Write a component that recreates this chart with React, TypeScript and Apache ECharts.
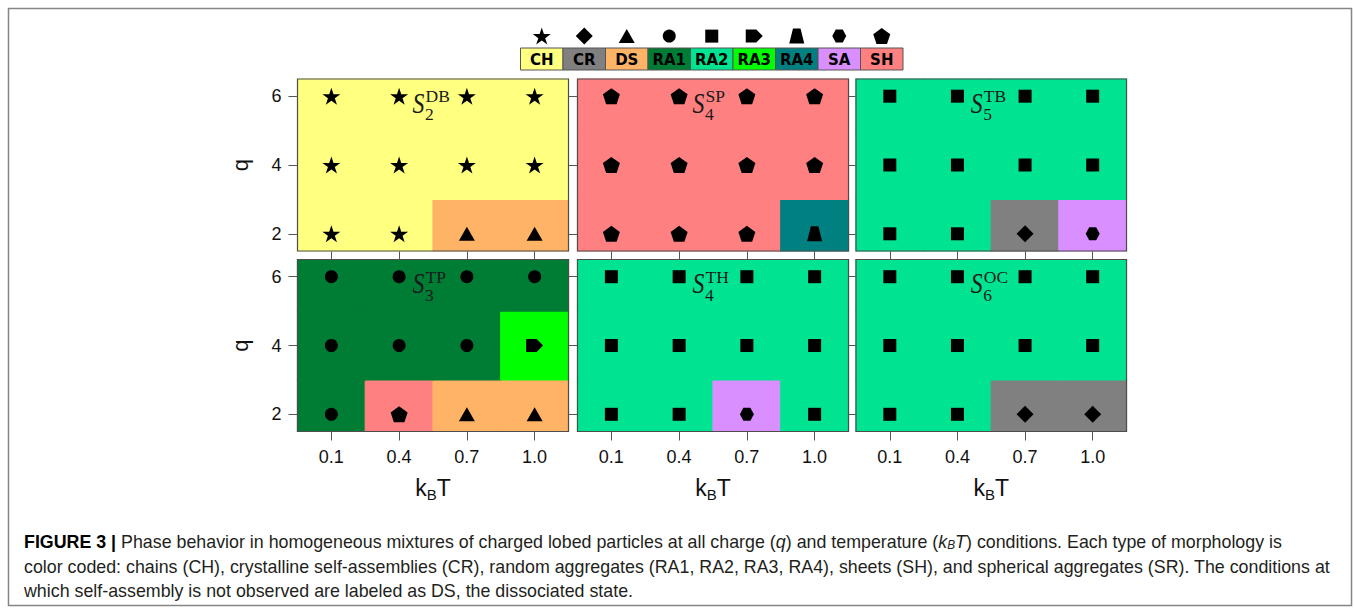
import React, { useEffect, useRef } from 'react';
import * as echarts from 'echarts';

// ---------------- data ----------------
const phaseTypes = ['CH', 'CR', 'DS', 'RA1', 'RA2', 'RA3', 'RA4', 'SA', 'SH'];
const phaseColors = ['#FFFF80', '#808080', '#FFB366', '#007D35', '#00E492', '#00FF00', '#008080', '#D98FFF', '#FF8080'];
const kbtValues = [0.1, 0.4, 0.7, 1.0];
const qValues = [2, 4, 6];
const kbtRange = [-0.05, 1.15];
const qRange = [1.5, 6.5];
const systemSub = ['2', '4', '5', '3', '4', '6'];
const systemSup = ['DB', 'SP', 'TB', 'TP', 'TH', 'OC'];
// rows: q = 2, 4, 6 ; columns: kBT = 0.1, 0.4, 0.7, 1.0
const phaseS2DB = [['CH', 'CH', 'DS', 'DS'], ['CH', 'CH', 'CH', 'CH'], ['CH', 'CH', 'CH', 'CH']];
const phaseS4SP = [['SH', 'SH', 'SH', 'RA4'], ['SH', 'SH', 'SH', 'SH'], ['SH', 'SH', 'SH', 'SH']];
const phaseS5TB = [['RA2', 'RA2', 'CR', 'SA'], ['RA2', 'RA2', 'RA2', 'RA2'], ['RA2', 'RA2', 'RA2', 'RA2']];
const phaseS3TP = [['RA1', 'SH', 'DS', 'DS'], ['RA1', 'RA1', 'RA1', 'RA3'], ['RA1', 'RA1', 'RA1', 'RA1']];
const phaseS4TH = [['RA2', 'RA2', 'SA', 'RA2'], ['RA2', 'RA2', 'RA2', 'RA2'], ['RA2', 'RA2', 'RA2', 'RA2']];
const phaseS6OC = [['RA2', 'RA2', 'CR', 'CR'], ['RA2', 'RA2', 'RA2', 'RA2'], ['RA2', 'RA2', 'RA2', 'RA2']];
const panelMaps = [phaseS2DB, phaseS4SP, phaseS5TB, phaseS3TP, phaseS4TH, phaseS6OC];

const captionLines = [
  '{b|FIGURE 3 |} Phase behavior in homogeneous mixtures of charged lobed particles at all charge ({i|q}) and temperature ({i|k}{s|B}{i|T}) conditions. Each type of morphology is',
  'color coded: chains (CH), crystalline self-assemblies (CR), random aggregates (RA1, RA2, RA3, RA4), sheets (SH), and spherical aggregates (SR). The conditions at',
  'which self-assembly is not observed are labeled as DS, the dissociated state.',
];

// ---------------- styling / layout ----------------
const SYM: Record<string, { symbol: string; size: number | number[] }> = {
  CH: { symbol: 'path://M50 0 L61.23 34.55 L97.55 34.55 L68.16 55.9 L79.39 90.45 L50 69.1 L20.61 90.45 L31.84 55.9 L2.45 34.55 L38.77 34.55 Z', size: [18, 17] },
  CR: { symbol: 'diamond', size: [17, 17] },
  DS: { symbol: 'triangle', size: [16, 14] },
  RA1: { symbol: 'circle', size: 13 },
  RA2: { symbol: 'rect', size: 13 },
  RA3: { symbol: 'path://M0 0 L62 0 L100 50 L62 100 L0 100 Z', size: [17, 13] },
  RA4: { symbol: 'path://M25 0 L75 0 L100 100 L0 100 Z', size: [15, 15] },
  SA: { symbol: 'path://M25 0 L75 0 L100 50 L75 100 L25 100 L0 50 Z', size: [14, 13] },
  SH: { symbol: 'path://M50 0 L97.55 34.55 L79.39 90.45 L20.61 90.45 L2.45 34.55 Z', size: [17, 16] },
};

const gridLefts = [297.5, 577.5, 856];
const gridWidths = [271, 271, 270.5];
const gridTops = [79, 259.5];
const gridHeight = 172;
const SANS = '"Liberation Sans", Arial, sans-serif';
const SERIF = '"Liberation Serif", "Times New Roman", serif';

function cellRender(params: any, api: any) {
  const p0 = api.coord([api.value(0), api.value(3)]);
  const p1 = api.coord([api.value(1), api.value(2)]);
  const c = phaseColors[api.value(4)];
  return {
    type: 'rect',
    shape: { x: p0[0], y: p0[1], width: p1[0] - p0[0], height: p1[1] - p0[1] },
    style: { fill: c, stroke: c, lineWidth: 1.2 },
  };
}

function legendRender(params: any, api: any) {
  const idx = api.value(0);
  const base = api.coord([idx, 0]);
  const w = api.size([1, 0])[0];
  const top = api.coord([idx, 0.5])[1];
  return {
    type: 'group',
    children: [
      {
        type: 'rect',
        shape: { x: base[0] - w / 2, y: top, width: w, height: base[1] - top },
        style: { fill: phaseColors[idx], stroke: '#555', lineWidth: 1 },
      },
      {
        type: 'text',
        x: base[0],
        y: (top + base[1]) / 2 + 1,
        style: {
          text: phaseTypes[idx],
          fill: '#000',
          font: 'bold 15px "DejaVu Sans", Verdana, sans-serif',
          align: 'center',
          verticalAlign: 'middle',
        },
      },
    ],
  };
}

function buildOption() {
  const grids: any[] = [];
  const xAxes: any[] = [];
  const yAxes: any[] = [];
  const series: any[] = [];
  const graphics: any[] = [];

  panelMaps.forEach((map, i) => {
    const row = Math.floor(i / 3);
    const col = i % 3;
    grids.push({
      left: gridLefts[col], top: gridTops[row], width: gridWidths[col], height: gridHeight,
      show: true, borderColor: '#4d4d4d', borderWidth: 1.2, backgroundColor: 'transparent', z: 10,
    });
    xAxes.push({
      type: 'value', gridIndex: i, min: kbtRange[0], max: kbtRange[1],
      splitLine: { show: false },
      axisLine: { show: false, onZero: false },
      axisTick: { show: true, customValues: kbtValues, length: 9, lineStyle: { color: '#555', width: 1 } },
      axisLabel: {
        show: row === 1, customValues: kbtValues, formatter: (v: number) => v.toFixed(1),
        fontSize: 18, fontFamily: SANS, color: '#111', margin: 16,
      },
      name: row === 1 ? 'k{b|B}T' : '',
      nameLocation: 'middle', nameGap: 42,
      nameTextStyle: {
        fontSize: 23, fontFamily: SANS, color: '#111', lineHeight: 28,
        rich: { b: { fontSize: 15, fontFamily: SANS, color: '#111', lineHeight: 15, verticalAlign: 'bottom' } },
      },
    });
    yAxes.push({
      type: 'value', gridIndex: i, min: qRange[0], max: qRange[1],
      splitLine: { show: false },
      axisLine: { show: false, onZero: false },
      axisTick: { show: true, customValues: qValues, length: 9, lineStyle: { color: '#555', width: 1 } },
      axisLabel: {
        show: col === 0, customValues: qValues, fontSize: 18, fontFamily: SANS, color: '#111', margin: 16,
      },
      name: col === 0 ? 'q' : '',
      nameLocation: 'middle', nameGap: 46,
      nameTextStyle: { fontSize: 22, fontFamily: SANS, color: '#111' },
    });

    const cells: number[][] = [];
    const marks: any[] = [];
    qValues.forEach((q, r) => {
      const y0 = r === 0 ? qRange[0] : (qValues[r - 1] + q) / 2;
      const y1 = r === qValues.length - 1 ? qRange[1] : (q + qValues[r + 1]) / 2;
      kbtValues.forEach((t, c) => {
        const x0 = c === 0 ? kbtRange[0] : (kbtValues[c - 1] + t) / 2;
        const x1 = c === kbtValues.length - 1 ? kbtRange[1] : (t + kbtValues[c + 1]) / 2;
        const type = map[r][c];
        cells.push([x0, x1, y0, y1, phaseTypes.indexOf(type)]);
        marks.push({ value: [t, q], symbol: SYM[type].symbol, symbolSize: SYM[type].size });
      });
    });
    series.push({ type: 'custom', xAxisIndex: i, yAxisIndex: i, data: cells, renderItem: cellRender, silent: true, z: 1 });
    series.push({ type: 'scatter', xAxisIndex: i, yAxisIndex: i, data: marks, itemStyle: { color: '#000', opacity: 1 }, silent: true, z: 3 });

    // panel title S_n^XX
    const cx = gridLefts[col] + gridWidths[col] / 2;
    const top = gridTops[row];
    graphics.push(
      { type: 'text', z: 100, silent: true, x: cx - 20.5, y: top + 24, scaleX: 0.82, style: { text: 'S', font: `italic 29px ${SERIF}`, fill: '#1a1a1a', align: 'left', verticalAlign: 'middle' } },
      { type: 'text', z: 100, silent: true, x: cx - 7.5, y: top + 17, style: { text: systemSup[i], font: `17.5px ${SERIF}`, fill: '#1a1a1a', align: 'left', verticalAlign: 'middle' } },
      { type: 'text', z: 100, silent: true, x: cx - 8, y: top + 35, style: { text: systemSub[i], font: `17.5px ${SERIF}`, fill: '#1a1a1a', align: 'left', verticalAlign: 'middle' } },
    );
  });

  // legend key (grid 6)
  grids.push({ left: 520.5, top: 26, width: 382.5, height: 44, show: false });
  xAxes.push({ type: 'category', gridIndex: 6, data: phaseTypes, show: false });
  yAxes.push({ type: 'value', gridIndex: 6, min: 0, max: 1, show: false });
  series.push({
    type: 'custom', xAxisIndex: 6, yAxisIndex: 6, silent: true,
    data: phaseTypes.map((t, i) => [i, 0]), renderItem: legendRender,
  });
  series.push({
    type: 'scatter', xAxisIndex: 6, yAxisIndex: 6, silent: true, itemStyle: { color: '#000', opacity: 1 },
    data: phaseTypes.map((t, i) => ({ value: [i, 0.77], symbol: SYM[t].symbol, symbolSize: SYM[t].size })),
  });

  // outer frame
  graphics.push({
    type: 'rect', z: 0, silent: true,
    shape: { x: 8.5, y: 8.5, width: 1343, height: 597 },
    style: { fill: 'none', stroke: '#858585', lineWidth: 1.5 },
  });

  // caption
  const capY = [542, 567, 591];
  captionLines.forEach((line, k) => {
    graphics.push({
      type: 'text', z: 100, x: 24, y: capY[k], scaleX: 0.99, silent: true,
      style: {
        text: line, font: `18px ${SANS}`, fill: '#231f20', verticalAlign: 'middle', align: 'left',
        rich: {
          b: { font: `bold 18px ${SANS}`, fill: '#000' },
          i: { font: `italic 18px ${SANS}`, fill: '#231f20' },
          s: { font: `italic 12px ${SANS}`, fill: '#231f20', verticalAlign: 'bottom', lineHeight: 12 },
        },
      },
    });
  });

  return {
    animation: false,
    backgroundColor: '#fff',
    grid: grids,
    xAxis: xAxes,
    yAxis: yAxes,
    series,
    graphic: graphics,
  };
}

export default function App() {
  const ref = useRef<HTMLDivElement>(null);
  useEffect(() => {
    const chart = echarts.init(ref.current!, null, { renderer: 'svg' });
    chart.setOption(buildOption() as any);
    return () => chart.dispose();
  }, []);
  return <div ref={ref} style={{ position: 'absolute', left: 0, top: 0, width: 1354, height: 614, background: '#fff' }} />;
}
